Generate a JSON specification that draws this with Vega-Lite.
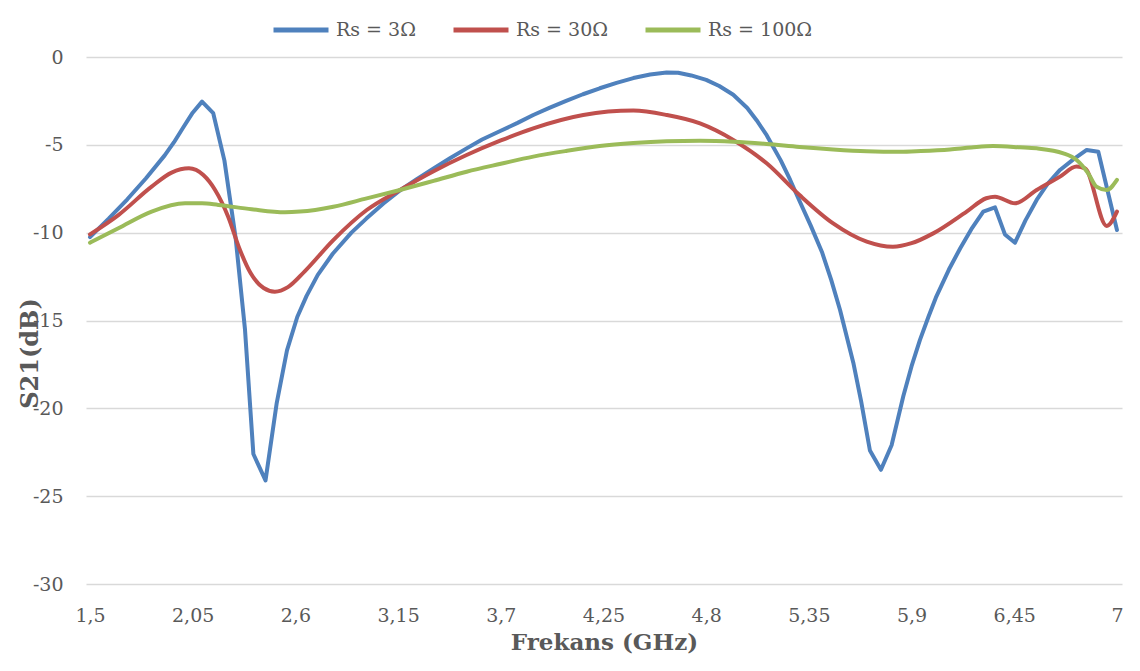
{
  "$schema": "https://vega.github.io/schema/vega-lite/v6.json",
  "width": 1036,
  "height": 527,
  "autosize": {"type": "none"},
  "padding": {"left": 86, "top": 57, "right": 18, "bottom": 87},
  "background": "white",
  "config": {
    "view": {"stroke": null},
    "font": "DejaVu Serif"
  },
  "data": {
    "values": [
      {"f": 1.5, "s": -10.25, "rs": "Rs = 3Ω"},
      {"f": 1.6, "s": -9.2, "rs": "Rs = 3Ω"},
      {"f": 1.7, "s": -8.1, "rs": "Rs = 3Ω"},
      {"f": 1.8, "s": -6.9, "rs": "Rs = 3Ω"},
      {"f": 1.9, "s": -5.6, "rs": "Rs = 3Ω"},
      {"f": 1.95, "s": -4.85, "rs": "Rs = 3Ω"},
      {"f": 2.0, "s": -4.0, "rs": "Rs = 3Ω"},
      {"f": 2.05, "s": -3.17, "rs": "Rs = 3Ω"},
      {"f": 2.1, "s": -2.54, "rs": "Rs = 3Ω"},
      {"f": 2.16, "s": -3.2, "rs": "Rs = 3Ω"},
      {"f": 2.22, "s": -5.9, "rs": "Rs = 3Ω"},
      {"f": 2.28, "s": -10.3, "rs": "Rs = 3Ω"},
      {"f": 2.33, "s": -15.5, "rs": "Rs = 3Ω"},
      {"f": 2.375, "s": -22.6, "rs": "Rs = 3Ω"},
      {"f": 2.44, "s": -24.1, "rs": "Rs = 3Ω"},
      {"f": 2.5, "s": -19.7, "rs": "Rs = 3Ω"},
      {"f": 2.555, "s": -16.7, "rs": "Rs = 3Ω"},
      {"f": 2.61, "s": -14.8, "rs": "Rs = 3Ω"},
      {"f": 2.66, "s": -13.6, "rs": "Rs = 3Ω"},
      {"f": 2.72, "s": -12.4, "rs": "Rs = 3Ω"},
      {"f": 2.8, "s": -11.2, "rs": "Rs = 3Ω"},
      {"f": 2.9, "s": -10.0, "rs": "Rs = 3Ω"},
      {"f": 2.98, "s": -9.2, "rs": "Rs = 3Ω"},
      {"f": 3.07, "s": -8.35, "rs": "Rs = 3Ω"},
      {"f": 3.16, "s": -7.6, "rs": "Rs = 3Ω"},
      {"f": 3.25, "s": -6.95, "rs": "Rs = 3Ω"},
      {"f": 3.34, "s": -6.35, "rs": "Rs = 3Ω"},
      {"f": 3.43, "s": -5.75, "rs": "Rs = 3Ω"},
      {"f": 3.517, "s": -5.2, "rs": "Rs = 3Ω"},
      {"f": 3.6, "s": -4.7, "rs": "Rs = 3Ω"},
      {"f": 3.7, "s": -4.2, "rs": "Rs = 3Ω"},
      {"f": 3.79, "s": -3.75, "rs": "Rs = 3Ω"},
      {"f": 3.874, "s": -3.3, "rs": "Rs = 3Ω"},
      {"f": 3.96, "s": -2.9, "rs": "Rs = 3Ω"},
      {"f": 4.05, "s": -2.5, "rs": "Rs = 3Ω"},
      {"f": 4.14, "s": -2.12, "rs": "Rs = 3Ω"},
      {"f": 4.23, "s": -1.78, "rs": "Rs = 3Ω"},
      {"f": 4.32, "s": -1.47, "rs": "Rs = 3Ω"},
      {"f": 4.41, "s": -1.2, "rs": "Rs = 3Ω"},
      {"f": 4.5, "s": -1.0, "rs": "Rs = 3Ω"},
      {"f": 4.588, "s": -0.88, "rs": "Rs = 3Ω"},
      {"f": 4.65, "s": -0.9, "rs": "Rs = 3Ω"},
      {"f": 4.72, "s": -1.05, "rs": "Rs = 3Ω"},
      {"f": 4.8, "s": -1.3, "rs": "Rs = 3Ω"},
      {"f": 4.87, "s": -1.65, "rs": "Rs = 3Ω"},
      {"f": 4.945, "s": -2.15, "rs": "Rs = 3Ω"},
      {"f": 5.02, "s": -2.9, "rs": "Rs = 3Ω"},
      {"f": 5.07, "s": -3.6, "rs": "Rs = 3Ω"},
      {"f": 5.124, "s": -4.45, "rs": "Rs = 3Ω"},
      {"f": 5.2, "s": -5.9, "rs": "Rs = 3Ω"},
      {"f": 5.25, "s": -7.0, "rs": "Rs = 3Ω"},
      {"f": 5.3, "s": -8.2, "rs": "Rs = 3Ω"},
      {"f": 5.36, "s": -9.6, "rs": "Rs = 3Ω"},
      {"f": 5.42, "s": -11.1, "rs": "Rs = 3Ω"},
      {"f": 5.47, "s": -12.7, "rs": "Rs = 3Ω"},
      {"f": 5.517, "s": -14.4, "rs": "Rs = 3Ω"},
      {"f": 5.588, "s": -17.4, "rs": "Rs = 3Ω"},
      {"f": 5.63, "s": -19.6, "rs": "Rs = 3Ω"},
      {"f": 5.677, "s": -22.4, "rs": "Rs = 3Ω"},
      {"f": 5.736, "s": -23.5, "rs": "Rs = 3Ω"},
      {"f": 5.793, "s": -22.1, "rs": "Rs = 3Ω"},
      {"f": 5.856, "s": -19.3, "rs": "Rs = 3Ω"},
      {"f": 5.9, "s": -17.6, "rs": "Rs = 3Ω"},
      {"f": 5.945, "s": -16.1, "rs": "Rs = 3Ω"},
      {"f": 5.99, "s": -14.8, "rs": "Rs = 3Ω"},
      {"f": 6.03, "s": -13.7, "rs": "Rs = 3Ω"},
      {"f": 6.1, "s": -12.1, "rs": "Rs = 3Ω"},
      {"f": 6.16, "s": -10.9, "rs": "Rs = 3Ω"},
      {"f": 6.22, "s": -9.8, "rs": "Rs = 3Ω"},
      {"f": 6.284, "s": -8.8, "rs": "Rs = 3Ω"},
      {"f": 6.347, "s": -8.56, "rs": "Rs = 3Ω"},
      {"f": 6.4, "s": -10.1, "rs": "Rs = 3Ω"},
      {"f": 6.454, "s": -10.57, "rs": "Rs = 3Ω"},
      {"f": 6.51, "s": -9.3, "rs": "Rs = 3Ω"},
      {"f": 6.57, "s": -8.14, "rs": "Rs = 3Ω"},
      {"f": 6.63, "s": -7.2, "rs": "Rs = 3Ω"},
      {"f": 6.695, "s": -6.43, "rs": "Rs = 3Ω"},
      {"f": 6.77, "s": -5.8, "rs": "Rs = 3Ω"},
      {"f": 6.838, "s": -5.29, "rs": "Rs = 3Ω"},
      {"f": 6.9, "s": -5.39, "rs": "Rs = 3Ω"},
      {"f": 7.0, "s": -9.85, "rs": "Rs = 3Ω"},

      {"f": 1.5, "s": -10.1, "rs": "Rs = 30Ω"},
      {"f": 1.652, "s": -9.0, "rs": "Rs = 30Ω"},
      {"f": 1.83, "s": -7.38, "rs": "Rs = 30Ω"},
      {"f": 1.937, "s": -6.58, "rs": "Rs = 30Ω"},
      {"f": 2.03, "s": -6.34, "rs": "Rs = 30Ω"},
      {"f": 2.107, "s": -6.72, "rs": "Rs = 30Ω"},
      {"f": 2.17, "s": -7.57, "rs": "Rs = 30Ω"},
      {"f": 2.24, "s": -9.09, "rs": "Rs = 30Ω"},
      {"f": 2.3, "s": -10.9, "rs": "Rs = 30Ω"},
      {"f": 2.36, "s": -12.3, "rs": "Rs = 30Ω"},
      {"f": 2.43, "s": -13.15, "rs": "Rs = 30Ω"},
      {"f": 2.49, "s": -13.36, "rs": "Rs = 30Ω"},
      {"f": 2.56, "s": -13.1, "rs": "Rs = 30Ω"},
      {"f": 2.65, "s": -12.2, "rs": "Rs = 30Ω"},
      {"f": 2.803, "s": -10.42, "rs": "Rs = 30Ω"},
      {"f": 2.982, "s": -8.71, "rs": "Rs = 30Ω"},
      {"f": 3.16, "s": -7.57, "rs": "Rs = 30Ω"},
      {"f": 3.34, "s": -6.5, "rs": "Rs = 30Ω"},
      {"f": 3.517, "s": -5.58, "rs": "Rs = 30Ω"},
      {"f": 3.7, "s": -4.75, "rs": "Rs = 30Ω"},
      {"f": 3.874, "s": -4.06, "rs": "Rs = 30Ω"},
      {"f": 4.142, "s": -3.3, "rs": "Rs = 30Ω"},
      {"f": 4.41, "s": -3.05, "rs": "Rs = 30Ω"},
      {"f": 4.588, "s": -3.3, "rs": "Rs = 30Ω"},
      {"f": 4.767, "s": -3.78, "rs": "Rs = 30Ω"},
      {"f": 4.945, "s": -4.72, "rs": "Rs = 30Ω"},
      {"f": 5.124, "s": -6.05, "rs": "Rs = 30Ω"},
      {"f": 5.3, "s": -7.86, "rs": "Rs = 30Ω"},
      {"f": 5.48, "s": -9.47, "rs": "Rs = 30Ω"},
      {"f": 5.66, "s": -10.51, "rs": "Rs = 30Ω"},
      {"f": 5.8, "s": -10.8, "rs": "Rs = 30Ω"},
      {"f": 5.9, "s": -10.6, "rs": "Rs = 30Ω"},
      {"f": 6.016, "s": -10.04, "rs": "Rs = 30Ω"},
      {"f": 6.195, "s": -8.8, "rs": "Rs = 30Ω"},
      {"f": 6.3, "s": -8.04, "rs": "Rs = 30Ω"},
      {"f": 6.347, "s": -7.95, "rs": "Rs = 30Ω"},
      {"f": 6.454, "s": -8.33, "rs": "Rs = 30Ω"},
      {"f": 6.57, "s": -7.57, "rs": "Rs = 30Ω"},
      {"f": 6.695, "s": -6.81, "rs": "Rs = 30Ω"},
      {"f": 6.784, "s": -6.24, "rs": "Rs = 30Ω"},
      {"f": 6.829, "s": -6.34, "rs": "Rs = 30Ω"},
      {"f": 6.945, "s": -9.62, "rs": "Rs = 30Ω"},
      {"f": 7.0, "s": -8.8, "rs": "Rs = 30Ω"},

      {"f": 1.5, "s": -10.57, "rs": "Rs = 100Ω"},
      {"f": 1.652, "s": -9.75, "rs": "Rs = 100Ω"},
      {"f": 1.83, "s": -8.8, "rs": "Rs = 100Ω"},
      {"f": 2.009, "s": -8.33, "rs": "Rs = 100Ω"},
      {"f": 2.1, "s": -8.33, "rs": "Rs = 100Ω"},
      {"f": 2.187, "s": -8.42, "rs": "Rs = 100Ω"},
      {"f": 2.366, "s": -8.67, "rs": "Rs = 100Ω"},
      {"f": 2.544, "s": -8.84, "rs": "Rs = 100Ω"},
      {"f": 2.625, "s": -8.8, "rs": "Rs = 100Ω"},
      {"f": 2.803, "s": -8.52, "rs": "Rs = 100Ω"},
      {"f": 2.982, "s": -8.05, "rs": "Rs = 100Ω"},
      {"f": 3.16, "s": -7.57, "rs": "Rs = 100Ω"},
      {"f": 3.34, "s": -7.05, "rs": "Rs = 100Ω"},
      {"f": 3.517, "s": -6.53, "rs": "Rs = 100Ω"},
      {"f": 3.7, "s": -6.08, "rs": "Rs = 100Ω"},
      {"f": 3.874, "s": -5.67, "rs": "Rs = 100Ω"},
      {"f": 4.05, "s": -5.35, "rs": "Rs = 100Ω"},
      {"f": 4.23, "s": -5.07, "rs": "Rs = 100Ω"},
      {"f": 4.41, "s": -4.9, "rs": "Rs = 100Ω"},
      {"f": 4.588, "s": -4.8, "rs": "Rs = 100Ω"},
      {"f": 4.767, "s": -4.77, "rs": "Rs = 100Ω"},
      {"f": 4.945, "s": -4.82, "rs": "Rs = 100Ω"},
      {"f": 5.124, "s": -4.95, "rs": "Rs = 100Ω"},
      {"f": 5.3, "s": -5.12, "rs": "Rs = 100Ω"},
      {"f": 5.48, "s": -5.26, "rs": "Rs = 100Ω"},
      {"f": 5.66, "s": -5.36, "rs": "Rs = 100Ω"},
      {"f": 5.838, "s": -5.39, "rs": "Rs = 100Ω"},
      {"f": 5.95, "s": -5.35, "rs": "Rs = 100Ω"},
      {"f": 6.106, "s": -5.26, "rs": "Rs = 100Ω"},
      {"f": 6.22, "s": -5.15, "rs": "Rs = 100Ω"},
      {"f": 6.337, "s": -5.07, "rs": "Rs = 100Ω"},
      {"f": 6.48, "s": -5.14, "rs": "Rs = 100Ω"},
      {"f": 6.57, "s": -5.2, "rs": "Rs = 100Ω"},
      {"f": 6.713, "s": -5.48, "rs": "Rs = 100Ω"},
      {"f": 6.784, "s": -5.86, "rs": "Rs = 100Ω"},
      {"f": 6.846, "s": -6.62, "rs": "Rs = 100Ω"},
      {"f": 6.89, "s": -7.38, "rs": "Rs = 100Ω"},
      {"f": 6.945, "s": -7.57, "rs": "Rs = 100Ω"},
      {"f": 7.0, "s": -7.0, "rs": "Rs = 100Ω"}
    ]
  },
  "encoding": {
    "x": {
      "field": "f",
      "type": "quantitative",
      "scale": {"domain": [1.4786, 7.027], "nice": false, "zero": false},
      "axis": {
        "values": [1.5, 2.05, 2.6, 3.15, 3.7, 4.25, 4.8, 5.35, 5.9, 6.45, 7],
        "labelExpr": "replace('' + datum.value, '.', ',')",
        "grid": false,
        "domain": false,
        "ticks": false,
        "labelFont": "DejaVu Serif",
        "labelFontSize": 19,
        "labelColor": "#595959",
        "labelPadding": 22,
        "labelFlush": false,
        "title": "Frekans (GHz)",
        "titleFont": "DejaVu Serif",
        "titleFontSize": 23,
        "titleFontWeight": "bold",
        "titleColor": "#595959",
        "titlePadding": 6
      }
    },
    "y": {
      "field": "s",
      "type": "quantitative",
      "scale": {"domain": [-30, 0], "nice": false, "zero": false},
      "axis": {
        "values": [0, -5, -10, -15, -20, -25, -30],
        "labelExpr": "'' + datum.value",
        "grid": true,
        "gridColor": "#D9D9D9",
        "gridWidth": 1.6,
        "domain": false,
        "ticks": false,
        "labelFont": "DejaVu Serif",
        "labelFontSize": 19,
        "labelColor": "#595959",
        "labelPadding": 23,
        "title": "S21(dB)",
        "titleFont": "DejaVu Serif",
        "titleFontSize": 24,
        "titleFontWeight": "bold",
        "titleColor": "#595959",
        "titleX": -56,
        "titleY": 296,
        "titleAngle": -90,
        "titleAlign": "center",
        "titleBaseline": "middle"
      }
    },
    "color": {
      "field": "rs",
      "type": "nominal",
      "scale": {
        "domain": ["Rs = 3Ω", "Rs = 30Ω", "Rs = 100Ω"],
        "range": ["#4F81BD", "#C0504D", "#9BBB59"]
      },
      "legend": {
        "title": null,
        "orient": "none",
        "direction": "horizontal",
        "legendX": 185,
        "legendY": -38,
        "symbolType": "stroke",
        "symbolSize": 3025,
        "symbolStrokeWidth": 5,
        "clipHeight": 22,
        "labelFont": "DejaVu Serif",
        "labelFontSize": 19,
        "labelColor": "#595959",
        "labelOffset": 5,
        "columnPadding": 35
      }
    }
  },
  "layer": [
    {
      "transform": [{"filter": "datum.rs === 'Rs = 3Ω'"}],
      "mark": {"type": "line", "strokeWidth": 4, "interpolate": "linear", "strokeCap": "round", "strokeJoin": "round"}
    },
    {
      "transform": [{"filter": "datum.rs !== 'Rs = 3Ω'"}],
      "mark": {"type": "line", "strokeWidth": 4, "interpolate": "monotone", "strokeCap": "round", "strokeJoin": "round"}
    }
  ]
}
